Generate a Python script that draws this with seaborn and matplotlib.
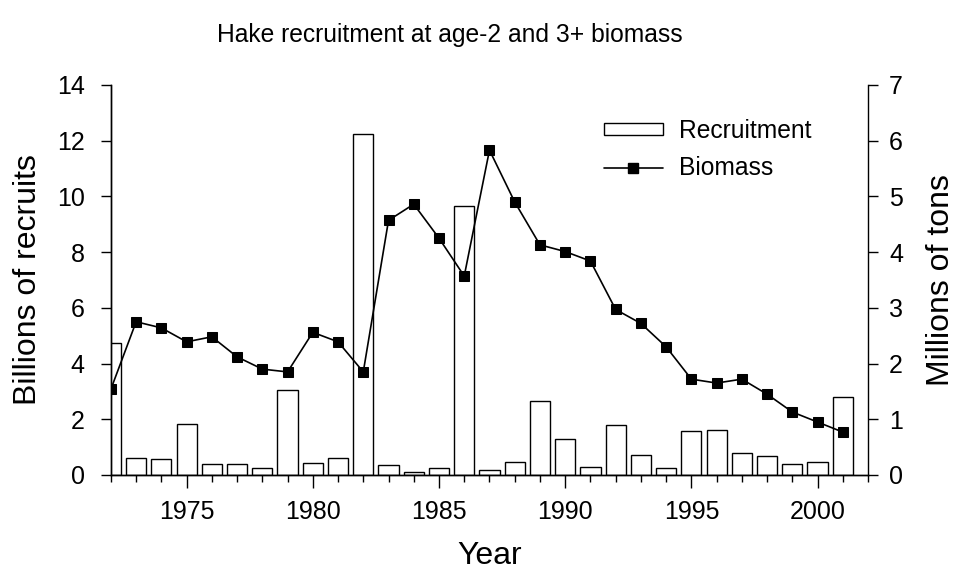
import matplotlib
matplotlib.use("Agg")
import matplotlib.pyplot as plt
from matplotlib.patches import Patch
from matplotlib.lines import Line2D
from matplotlib.ticker import MultipleLocator
import seaborn as sns
import pandas as pd

sns.set_style("ticks")
plt.rcParams['font.family'] = ['Liberation Sans', 'DejaVu Sans']
plt.rcParams['text.color'] = 'black'
plt.rcParams['axes.labelcolor'] = 'black'
plt.rcParams['xtick.color'] = 'black'
plt.rcParams['ytick.color'] = 'black'

# values
years = list(range(1972, 2002))
recruits = [4.73, 0.62, 0.56, 1.82, 0.41, 0.41, 0.26, 3.05, 0.44, 0.60,
            12.23, 0.37, 0.12, 0.26, 9.65, 0.17, 0.46, 2.66, 1.28, 0.28,
            1.79, 0.71, 0.26, 1.58, 1.62, 0.78, 0.68, 0.41, 0.48, 2.79]
biomass = [1.54, 2.75, 2.64, 2.39, 2.48, 2.12, 1.90, 1.85, 2.56, 2.39,
           1.85, 4.57, 4.86, 4.25, 3.57, 5.83, 4.90, 4.13, 4.01, 3.84,
           2.97, 2.72, 2.30, 1.72, 1.65, 1.72, 1.45, 1.13, 0.95, 0.77]

df = pd.DataFrame({"Year": years, "Recruitment": recruits, "Biomass": biomass})

fig = plt.figure(figsize=(9.56, 5.74), dpi=100)
ax = fig.add_axes([0.116, 0.1725, 0.792, 0.6795])

sns.barplot(data=df, x="Year", y="Recruitment", native_scale=True, width=0.8,
            color="white", edgecolor="black", linewidth=1.0, errorbar=None,
            saturation=1, ax=ax)
ax.set_xlim(1972, 2002)
ax.set_ylim(0, 14)
ax.set_yticks(range(0, 15, 2))
ax.xaxis.set_major_locator(MultipleLocator(5))
ax.xaxis.set_minor_locator(MultipleLocator(1))

ax2 = ax.twinx()
sns.lineplot(data=df, x="Year", y="Biomass", color="black", linewidth=1.2,
             marker="s", markersize=7.5, markeredgecolor="black", ax=ax2)
ax2.set_ylim(0, 7)
ax2.set_yticks(range(0, 8))

for a in (ax, ax2):
    a.spines['top'].set_visible(False)
    for s in a.spines.values():
        s.set_linewidth(1.0)
        s.set_color("black")
ax.spines['right'].set_visible(False)

ax.tick_params(axis='y', which='major', labelsize=18, length=7, width=1,
               direction='out', color='black', pad=12)
ax.tick_params(axis='x', which='major', labelsize=18, length=9, width=1,
               direction='out', color='black', pad=9)
ax.tick_params(axis='x', which='minor', length=5, width=1, color='black')
ax2.tick_params(axis='y', labelsize=18, length=7, width=1, direction='out',
                color='black', pad=8)

ax.set_xlabel("Year", fontsize=23, labelpad=12)
ax.set_ylabel("Billions of recruits", fontsize=23, labelpad=10)
ax2.set_ylabel("Millions of tons", fontsize=23, labelpad=17)
fig.suptitle("Hake recruitment at age-2 and 3+ biomass", fontsize=17.7,
             x=0.471, y=0.96)

handles = [Patch(facecolor="white", edgecolor="black", linewidth=1.0),
           Line2D([], [], color="black", linewidth=1.2, marker="s",
                  markersize=7.5)]
ax2.legend(handles, ["Recruitment", "Biomass"], loc="upper left",
           bbox_to_anchor=(0.651, 0.913), frameon=False, fontsize=17.7,
           handlelength=2.4, handleheight=0.36, handletextpad=0.65,
           labelspacing=0.55, borderpad=0, borderaxespad=0)

fig.savefig("out.png", dpi=100)
